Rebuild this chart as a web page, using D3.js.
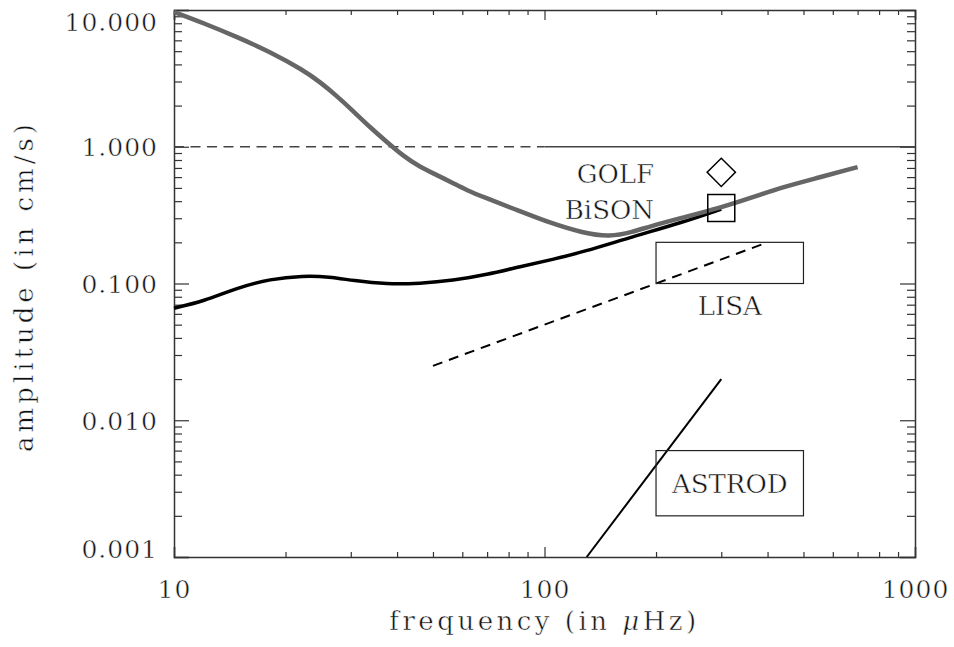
<!DOCTYPE html>
<html>
<head>
<meta charset="utf-8">
<script src="https://cdn.jsdelivr.net/npm/d3@7"></script>
<style>
  body { margin: 0; background: #fff; }
  svg text { font-family: "DejaVu Serif", "Liberation Serif", serif; fill: #111; stroke: #fff; stroke-width: 0.5px; }
</style>
</head>
<body>
<div id="chart"></div>
<script>
// values
const grayFreq = [10, 12, 14.8, 18.2, 22.3, 24.8, 27.5, 30.4, 33.8, 37.6, 41.5, 46.1, 51.3, 56.6, 61.8, 68.2, 84.2, 103.5, 127, 150, 173, 192.6, 236, 300, 358, 440, 543, 700];
const grayAmp  = [9.67, 8.03, 6.35, 4.93, 3.64, 2.97, 2.35, 1.83, 1.39, 1.08, 0.86, 0.71, 0.62, 0.543, 0.48, 0.43, 0.345, 0.277, 0.234, 0.219, 0.238, 0.262, 0.303, 0.36, 0.42, 0.508, 0.59, 0.71];

const blackFreq = [10, 12, 14.8, 18.2, 22.3, 26.3, 30.4, 37.6, 46, 56.6, 69.9, 86, 105.4, 127, 173, 236, 300];
const blackAmp  = [0.066, 0.074, 0.093, 0.108, 0.114, 0.112, 0.105, 0.0985, 0.1, 0.105, 0.116, 0.133, 0.15, 0.17, 0.22, 0.28, 0.35];

const lisaFreq = [50, 400];
const lisaAmp  = [0.025, 0.2];
const astrodFreq = [130, 300];
const astrodAmp  = [0.001, 0.02];

const refLevel = 1.0;
const golf  = { f: 300, a: 0.65, label: "GOLF" };
const bison = { f: 300, a: 0.356, label: "BiSON" };
const lisaBox   = { f: [200, 500], a: [0.1, 0.2], label: "LISA" };
const astrodBox = { f: [200, 500], a: [0.002, 0.006], label: "ASTROD" };

const yMajor = [0.001, 0.01, 0.1, 1, 10];
const xMajor = [10, 100, 1000];

const width = 954, height = 647;
const margin = { top: 10, right: 39, bottom: 90, left: 174 };
const iw = width - margin.left - margin.right;
const ih = height - margin.top - margin.bottom;

const svg = d3.select("#chart").append("svg")
    .attr("width", width)
    .attr("height", height);
const g = svg.append("g")
    .attr("transform", `translate(${margin.left},${margin.top})`);

const x = d3.scaleLog().domain([10, 1000]).range([0, iw]);
const y = d3.scaleLog().domain([0.001, 10]).range([ih, 0]);

// minor tick values (2..9 of each decade)
const xMinor = [];
[10, 100].forEach(d => { for (let k = 2; k <= 9; k++) xMinor.push(d * k); });
const yMinor = [];
[0.001, 0.01, 0.1, 1].forEach(d => { for (let k = 2; k <= 9; k++) yMinor.push(d * k); });

function styleAxis(sel) {
    sel.selectAll("path").attr("stroke", "#333").attr("stroke-width", 1.5);
    sel.selectAll("line").attr("stroke", "#333").attr("stroke-width", 1.2);
    sel.selectAll("text").attr("font-size", 25).attr("fill", "#111")
        .attr("font-family", "DejaVu Serif")
        .style("letter-spacing", "1px");
}

// bottom axis
const xb = g.append("g").attr("transform", `translate(0,${ih})`)
    .call(d3.axisBottom(x).tickValues(xMajor).tickSize(-10).tickPadding(23).tickFormat(d3.format("d")));
styleAxis(xb);
g.append("g").attr("transform", `translate(0,${ih})`)
    .call(d3.axisBottom(x).tickValues(xMinor).tickSize(-5).tickFormat(""))
    .call(styleAxis).select(".domain").remove();

// top axis
g.append("g").call(d3.axisTop(x).tickValues(xMajor).tickSize(-10).tickFormat("")).call(styleAxis);
g.append("g").call(d3.axisTop(x).tickValues(xMinor).tickSize(-5).tickFormat(""))
    .call(styleAxis).select(".domain").remove();

// left axis
const yl = g.append("g")
    .call(d3.axisLeft(y).tickValues(yMajor).tickSize(-15).tickPadding(16).tickFormat(d3.format(".3f")));
styleAxis(yl);
yl.selectAll("text").attr("dy", "0.36em");
// end labels are nudged inside like the original
yl.selectAll(".tick").filter(d => d === 10).select("text").attr("y", 11);
yl.selectAll(".tick").filter(d => d === 0.001).select("text").attr("y", -9);
g.append("g").call(d3.axisLeft(y).tickValues(yMinor).tickSize(-8).tickFormat(""))
    .call(styleAxis).select(".domain").remove();

// right axis
g.append("g").attr("transform", `translate(${iw},0)`)
    .call(d3.axisRight(y).tickValues(yMajor).tickSize(-15).tickFormat("")).call(styleAxis);
g.append("g").attr("transform", `translate(${iw},0)`)
    .call(d3.axisRight(y).tickValues(yMinor).tickSize(-8).tickFormat(""))
    .call(styleAxis).select(".domain").remove();

// reference level at 1 cm/s: dashed below 100 uHz, solid above
g.append("line")
    .attr("x1", x(10)).attr("x2", x(100))
    .attr("y1", y(refLevel)).attr("y2", y(refLevel))
    .attr("stroke", "#444").attr("stroke-width", 1.3)
    .attr("stroke-dasharray", "10 6.5");
g.append("line")
    .attr("x1", x(100)).attr("x2", x(1000))
    .attr("y1", y(refLevel)).attr("y2", y(refLevel))
    .attr("stroke", "#444").attr("stroke-width", 1.3);

const line = d3.line()
    .x(d => x(d[0]))
    .y(d => y(d[1]))
    .curve(d3.curveBasis);

// black curve first, gray one over it
g.append("path")
    .datum(d3.zip(blackFreq, blackAmp))
    .attr("d", line)
    .attr("fill", "none")
    .attr("stroke", "#000")
    .attr("stroke-width", 3.5);

g.append("path")
    .datum(d3.zip(grayFreq, grayAmp))
    .attr("d", line)
    .attr("fill", "none")
    .attr("stroke", "#666")
    .attr("stroke-width", 4.5);

// LISA sensitivity (dashed) and ASTROD (solid)
g.append("path")
    .datum(d3.zip(lisaFreq, lisaAmp))
    .attr("d", d3.line().x(d => x(d[0])).y(d => y(d[1])))
    .attr("fill", "none")
    .attr("stroke", "#000")
    .attr("stroke-width", 2)
    .attr("stroke-dasharray", "10 7");

g.append("path")
    .datum(d3.zip(astrodFreq, astrodAmp))
    .attr("d", d3.line().x(d => x(d[0])).y(d => y(d[1])))
    .attr("fill", "none")
    .attr("stroke", "#000")
    .attr("stroke-width", 2);

// boxes
[lisaBox, astrodBox].forEach(b => {
    g.append("rect")
        .attr("x", x(b.f[0]))
        .attr("y", y(b.a[1]))
        .attr("width", x(b.f[1]) - x(b.f[0]))
        .attr("height", y(b.a[0]) - y(b.a[1]))
        .attr("fill", "none")
        .attr("stroke", "#222")
        .attr("stroke-width", 1.2);
});

g.append("text")
    .attr("x", x(Math.sqrt(lisaBox.f[0] * lisaBox.f[1])))
    .attr("y", y(lisaBox.a[0]) + 31)
    .attr("text-anchor", "middle")
    .attr("font-size", 26)
    .text(lisaBox.label);

g.append("text")
    .attr("x", x(Math.sqrt(astrodBox.f[0] * astrodBox.f[1])))
    .attr("y", (y(astrodBox.a[0]) + y(astrodBox.a[1])) / 2 + 10)
    .attr("text-anchor", "middle")
    .attr("font-size", 26)
    .text(astrodBox.label);

// GOLF and BiSON markers
g.append("path")
    .attr("d", d3.symbol().type(d3.symbolSquare).size(400))
    .attr("transform", `translate(${x(golf.f)},${y(golf.a)}) rotate(45)`)
    .attr("fill", "none")
    .attr("stroke", "#000")
    .attr("stroke-width", 1.5);

g.append("path")
    .attr("d", d3.symbol().type(d3.symbolSquare).size(729))
    .attr("transform", `translate(${x(bison.f)},${y(bison.a)})`)
    .attr("fill", "none")
    .attr("stroke", "#000")
    .attr("stroke-width", 1.5);

[golf, bison].forEach(m => {
    g.append("text")
        .attr("x", x(200) - 2)
        .attr("y", y(m.a) + 11)
        .attr("text-anchor", "end")
        .attr("font-size", 26)
        .text(m.label);
});

// axis titles
const xt = svg.append("text")
    .attr("x", margin.left + x(100))
    .attr("y", 630)
    .attr("text-anchor", "middle")
    .attr("font-size", 26)
    .style("letter-spacing", "3.5px");
xt.append("tspan").text("frequency (in ");
xt.append("tspan").attr("font-style", "italic").text("\u03bc");
xt.append("tspan").text("Hz)");

svg.append("text")
    .attr("transform", `translate(33,286) rotate(-90)`)
    .attr("text-anchor", "middle")
    .attr("font-size", 26)
    .style("letter-spacing", "4px")
    .text("amplitude (in cm/s)");
</script>
</body>
</html>
